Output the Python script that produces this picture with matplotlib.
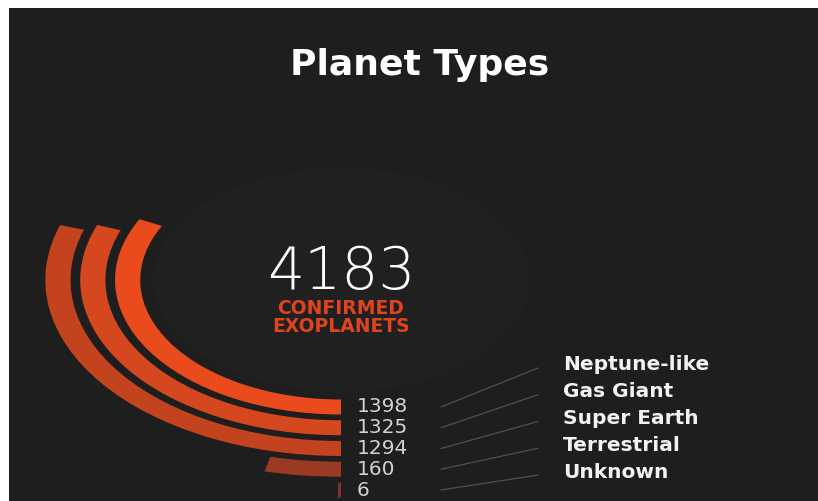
import numpy as np
import matplotlib
matplotlib.use("Agg")
import matplotlib.pyplot as plt
from matplotlib.patches import Rectangle

# ---------------- data ----------------
title = "Planet Types"
total = 4183
total_caption = ["CONFIRMED", "EXOPLANETS"]
categories = ["Neptune-like", "Gas Giant", "Super Earth", "Terrestrial", "Unknown"]
counts = [1398, 1325, 1294, 160, 6]
bar_colors = ["#ea4b1c", "#d5471f", "#c4431f", "#9b3a22", "#7d3326"]

# ---------------- layout / style ----------------
W, H = 818, 501
BG = "#1e1e1e"
cx, cy = 341, 280              # centre of the rings (pixels, top origin)
xstretch = 1.68                # horizontal stretch of the rings
r0, dr, thick = 127, 20.75, 15 # ring radii (vertical pixels)
deg_per_unit = 0.0836          # angular scale of the bars
R = 235

fig = plt.figure(figsize=(W / 100, H / 100), dpi=100, facecolor="white")
fig.add_artist(Rectangle((9 / W, 0), 1 - 9 / W, 1 - 8 / H, transform=fig.transFigure,
                         facecolor=BG, edgecolor="none", zorder=-5))

# polar axes, stretched into an ellipse
half_w, half_h = R * xstretch, R
left = (cx - half_w) / W
bottom = (H - cy - half_h) / H
ax = fig.add_axes([left, bottom, 2 * half_w / W, 2 * half_h / H], projection="polar")
ax.set_aspect("auto")
ax.set_theta_zero_location("S")
ax.set_theta_direction(-1)
ax.set_ylim(0, R)
ax.set_axis_off()
ax.patch.set_visible(False)

# faint disc behind the centre text
ax.bar(0, 112, width=2 * np.pi, bottom=0, align="edge", color="#202020", linewidth=0)

radii = [r0 + i * dr for i in range(len(counts))]
for r, v, c in zip(radii, counts, bar_colors):
    ax.bar(0, thick, width=np.deg2rad(v * deg_per_unit), bottom=r - thick / 2,
           align="edge", color=c, linewidth=0)

# overlay axes in pixel coordinates for the texts
ov = fig.add_axes([0, 0, 1, 1], zorder=5)
ov.set_xlim(0, W)
ov.set_ylim(H, 0)
ov.set_axis_off()
ov.patch.set_visible(False)

ov.text(420, 75, title, color="white", fontsize=26, fontweight="bold",
        ha="center", va="baseline", family="DejaVu Sans")
ov.text(cx, 289, str(total), color="white", fontsize=42, fontweight=200,
        ha="center", va="baseline", family="DejaVu Sans")
ov.text(cx, 332, "\n".join(total_caption), color="#e0441c", fontsize=13.5,
        fontweight="bold", ha="center", va="baseline", multialignment="center",
        linespacing=0.95, family="DejaVu Sans")

label_y0, label_dy = 365, 26.75
for i, (r, v, name) in enumerate(zip(radii, counts, categories)):
    vy = cy + r
    ly = label_y0 + i * label_dy
    ov.text(357, vy, f"{v}", color="#d2d2d2", fontsize=14.5, ha="left", va="center",
            family="DejaVu Sans")
    ov.plot([441, 538], [vy, ly + 3], color="#505050", lw=0.9, solid_capstyle="round")
    ov.text(563, ly, name, color="#f2f2f2", fontsize=14.5, fontweight="bold",
            ha="left", va="center", family="DejaVu Sans")

fig.savefig("out.png", dpi=100, facecolor=fig.get_facecolor())
